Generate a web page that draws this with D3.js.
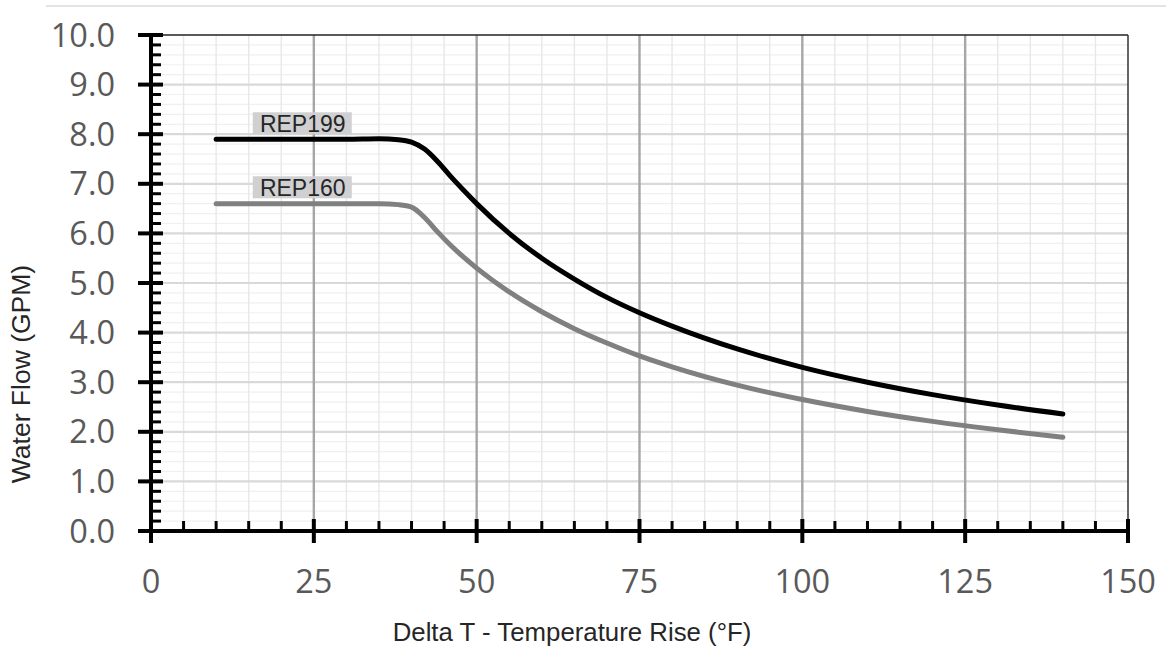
<!DOCTYPE html>
<html><head><meta charset="utf-8">
<script src="https://cdn.jsdelivr.net/npm/d3@7"></script>
<style>html,body{margin:0;padding:0;background:#fff;}svg{display:block;}</style>
</head><body>
<div id="chart"></div>
<script>
// ---- data ----
const deltaT = [10, 20, 30, 35, 38, 40, 42, 44, 46, 48, 50, 55, 60, 65, 70, 75, 80, 90, 100, 110, 120, 130, 140];
const rep199 = [7.9, 7.9, 7.9, 7.91, 7.89, 7.84, 7.7, 7.45, 7.15, 6.87, 6.6, 6.0, 5.5, 5.08, 4.71, 4.4, 4.13, 3.67, 3.3, 3.0, 2.75, 2.54, 2.36];
const rep160 = [6.6, 6.6, 6.6, 6.6, 6.58, 6.53, 6.32, 6.03, 5.76, 5.52, 5.3, 4.82, 4.42, 4.08, 3.79, 3.53, 3.31, 2.94, 2.65, 2.41, 2.21, 2.04, 1.89];
const seriesNames = ["REP199", "REP160"];
const labelX = [23.3, 23.3];
const labelY = [8.22, 6.93];
const xTicks = [0, 25, 50, 75, 100, 125, 150];
const yTicks = [0, 1, 2, 3, 4, 5, 6, 7, 8, 9, 10];
const xTitle = "Delta T - Temperature Rise (°F)";
const yTitle = "Water Flow (GPM)";

const W = 1166, H = 660;
const m = {left: 151, right: 1128, top: 35, bottom: 531};
const svg = d3.select("#chart").append("svg").attr("width", W).attr("height", H);

const x = d3.scaleLinear().domain([0, 150]).range([m.left, m.right]);
const y = d3.scaleLinear().domain([0, 10]).range([m.bottom, m.top]);

// outer top border
svg.append("line").attr("x1", 46).attr("x2", W).attr("y1", 6).attr("y2", 6)
  .attr("stroke", "#e3e3e3").attr("stroke-width", 2);

const g = svg.append("g");
const yMinor = d3.range(0, 10.001, 0.2).filter(v => Math.abs(v - Math.round(v)) > 1e-6);
g.selectAll(".hmin").data(yMinor).join("line")
  .attr("x1", m.left).attr("x2", m.right).attr("y1", d => y(d)).attr("y2", d => y(d))
  .attr("stroke", "#f0f0f0").attr("stroke-width", 1.2);
const xMinor = d3.range(0, 150.001, 5).filter(v => v % 25 !== 0);
g.selectAll(".vmin").data(xMinor).join("line")
  .attr("x1", d => x(d)).attr("x2", d => x(d)).attr("y1", m.top).attr("y2", m.bottom)
  .attr("stroke", "#e8e8e8").attr("stroke-width", 1.4);
g.selectAll(".hmaj").data(yTicks.filter(v => v > 0 && v < 10)).join("line")
  .attr("x1", m.left).attr("x2", m.right).attr("y1", d => y(d)).attr("y2", d => y(d))
  .attr("stroke", "#d9d9d9").attr("stroke-width", 2.2);
g.selectAll(".vmaj").data(xTicks.filter(v => v > 0 && v < 150)).join("line")
  .attr("x1", d => x(d)).attr("x2", d => x(d)).attr("y1", m.top).attr("y2", m.bottom)
  .attr("stroke", "#a6a6a6").attr("stroke-width", 2.4);

// top and right borders
svg.append("line").attr("x1", m.left).attr("x2", m.right).attr("y1", m.top).attr("y2", m.top)
  .attr("stroke", "#222").attr("stroke-width", 1.3);
svg.append("line").attr("x1", m.right).attr("x2", m.right).attr("y1", m.top).attr("y2", m.bottom)
  .attr("stroke", "#333").attr("stroke-width", 1.5);

// axes (scales drive positions)
const xAxis = svg.append("g").attr("transform", `translate(0,${m.bottom})`)
  .call(d3.axisBottom(x).tickValues(xTicks).tickSize(0).tickFormat(d3.format("d")));
xAxis.select(".domain").remove();
xAxis.selectAll("text").remove();
const yAxis = svg.append("g").attr("transform", `translate(${m.left},0)`)
  .call(d3.axisLeft(y).tickValues(yTicks).tickSize(0).tickFormat(d3.format(".1f")));
yAxis.select(".domain").remove();
yAxis.selectAll("text").remove();

// minor ticks (inside)
svg.selectAll(".ymt").data(yMinor).join("line")
  .attr("x1", m.left).attr("x2", m.left + 10).attr("y1", d => y(d)).attr("y2", d => y(d))
  .attr("stroke", "#000").attr("stroke-width", 3);
svg.selectAll(".xmt").data(xMinor).join("line")
  .attr("x1", d => x(d)).attr("x2", d => x(d)).attr("y1", m.bottom).attr("y2", m.bottom - 10)
  .attr("stroke", "#000").attr("stroke-width", 3);
// major ticks (cross)
svg.selectAll(".ymj").data(yTicks).join("line")
  .attr("x1", m.left - 13).attr("x2", m.left + 12).attr("y1", d => y(d)).attr("y2", d => y(d))
  .attr("stroke", "#000").attr("stroke-width", 4);
svg.selectAll(".xmj").data(xTicks).join("line")
  .attr("x1", d => x(d)).attr("x2", d => x(d)).attr("y1", m.bottom - 12).attr("y2", m.bottom + 12)
  .attr("stroke", "#000").attr("stroke-width", 4);
svg.append("line").attr("x1", m.left).attr("x2", m.left).attr("y1", m.top - 2).attr("y2", m.bottom + 12)
  .attr("stroke", "#000").attr("stroke-width", 4);
svg.append("line").attr("x1", m.left - 2).attr("x2", m.right + 2).attr("y1", m.bottom).attr("y2", m.bottom)
  .attr("stroke", "#000").attr("stroke-width", 4);

// tick labels
const tickFont = "'Open Sans', sans-serif";
svg.selectAll(".ylab").data(yTicks).join("text")
  .attr("x", 115).attr("y", d => y(d) + 11.5)
  .attr("text-anchor", "end").attr("font-family", tickFont).attr("font-size", 32.5)
  .attr("fill", "#595959").text(d => d3.format(".1f")(d));
svg.selectAll(".xlab").data(xTicks).join("text")
  .attr("x", d => x(d)).attr("y", 593)
  .attr("text-anchor", "middle").attr("font-family", tickFont).attr("font-size", 32.5)
  .attr("fill", "#595959").text(d => d);

// axis titles
svg.append("text").attr("x", 572).attr("y", 641).attr("text-anchor", "middle")
  .attr("font-family", "'Liberation Sans', Arial, sans-serif").attr("font-size", 25.8)
  .attr("fill", "#262626").text(xTitle);
svg.append("text").attr("transform", "translate(30,374) rotate(-90)").attr("text-anchor", "middle")
  .attr("font-family", "'Liberation Sans', Arial, sans-serif").attr("font-size", 26.5)
  .attr("fill", "#262626").text(yTitle);

// lines
const line = d3.line().x(d => x(d[0])).y(d => y(d[1])).curve(d3.curveMonotoneX);
const series = [rep199, rep160];
const colors = ["#000000", "#808080"];
series.forEach((vals, i) => {
  const pts = deltaT.map((t, j) => [t, vals[j]]);
  svg.append("path").attr("d", line(pts)).attr("fill", "none")
    .attr("stroke", colors[i]).attr("stroke-width", 5)
    .attr("stroke-linecap", "round").attr("stroke-linejoin", "round");
});

// data labels
seriesNames.forEach((name, i) => {
  const cx = x(labelX[i]), cy = y(labelY[i]);
  svg.append("rect").attr("x", cx - 50).attr("y", cy - 11).attr("width", 99).attr("height", 22)
    .attr("fill", "#d0d0d2");
  svg.append("text").attr("x", cx).attr("y", cy + 8.5).attr("text-anchor", "middle")
    .attr("font-family", "'Liberation Sans', Arial, sans-serif").attr("font-size", 23)
    .attr("fill", "#262626").text(name);
});
</script>
</body></html>
